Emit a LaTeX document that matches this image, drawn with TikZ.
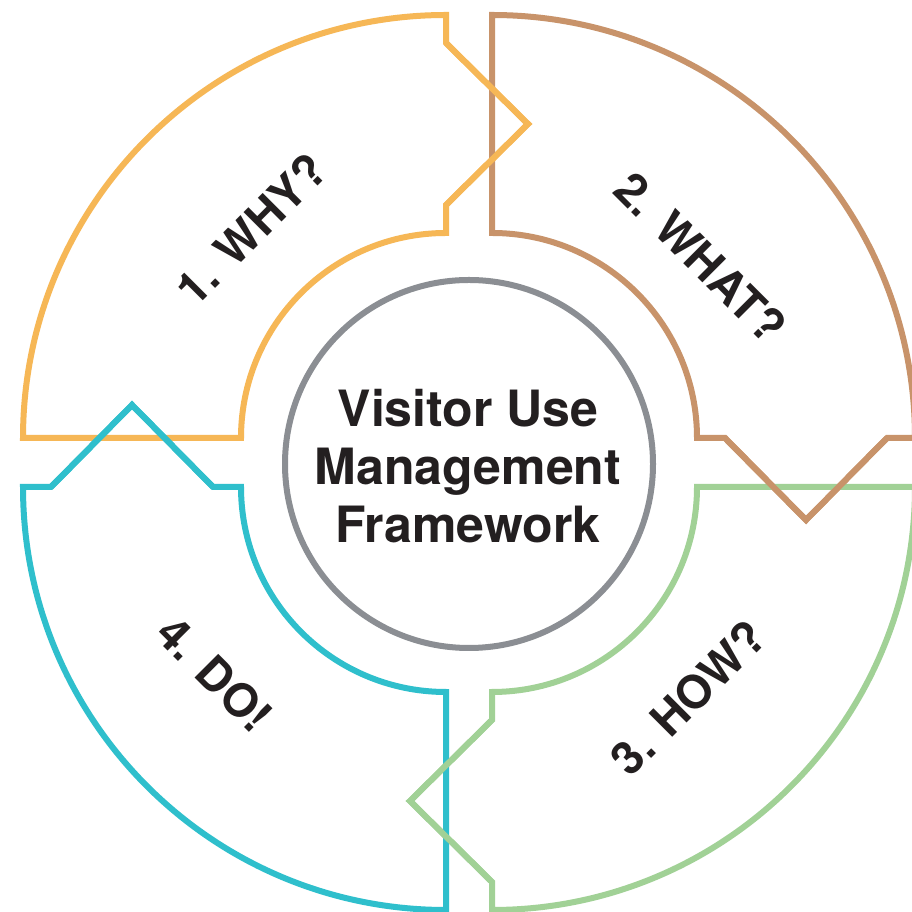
\documentclass[tikz,border=0pt]{standalone}
\usepackage{fontspec}
\setmainfont{TeX Gyre Heros}
\definecolor{cyel}{HTML}{F6B756}
\definecolor{cbrn}{HTML}{C8936A}
\definecolor{cgrn}{HTML}{A1D196}
\definecolor{ctea}{HTML}{2FBFCC}
\definecolor{cgry}{HTML}{8B8E93}
\definecolor{ctxt}{HTML}{231F20}
\begin{document}
\begin{tikzpicture}[x=1pt,y=1pt,
  seg/.style={line width=6pt, line join=miter},
  lab/.style={font=\fontsize{46}{50}\selectfont\bfseries, text=ctxt, inner sep=0pt},
  ctr/.style={font=\fontsize{50}{58}\selectfont\bfseries, text=ctxt, inner sep=0pt, anchor=base}]
\useasboundingbox (0,0) rectangle (911,912);
\fill[white] (0,0) rectangle (911,912);
\coordinate (TL) at (446,474);
\coordinate (TR) at (492,474);
\coordinate (BR) at (492,425);
\coordinate (BL) at (446,425);
\coordinate (C) at (469,448);

% yellow: 1. WHY?
\draw[seg, cyel] (TL) ++(180:423) arc[start angle=180, end angle=90, radius=423]
  -- ++(0,-28) -- ++(82,-81) -- ++(-82,-81) -- ++(0,-28)
  arc[start angle=90, end angle=180, radius=205] -- cycle;
% brown: 2. WHAT?
\draw[seg, cbrn] (TR) ++(90:423) arc[start angle=90, end angle=0, radius=423]
  -- ++(-28,0) -- ++(-81,-82) -- ++(-81,82) -- ++(-28,0)
  arc[start angle=0, end angle=90, radius=205] -- cycle;
% green: 3. HOW?
\draw[seg, cgrn] (BR) ++(0:423) arc[start angle=0, end angle=-90, radius=423]
  -- ++(0,28) -- ++(-82,81) -- ++(82,81) -- ++(0,28)
  arc[start angle=-90, end angle=0, radius=205] -- cycle;
% teal: 4. DO!
\draw[seg, ctea] (BL) ++(-90:423) arc[start angle=-90, end angle=-180, radius=423]
  -- ++(28,0) -- ++(81,82) -- ++(81,-82) -- ++(28,0)
  arc[start angle=180, end angle=270, radius=205] -- cycle;

% arrow heads on top
\draw[seg, cyel] (TL) ++(0,395) -- ++(82,-81) -- ++(-82,-81);
\draw[seg, cbrn] (TR) ++(395,0) -- ++(-81,-82) -- ++(-81,82);
\draw[seg, cgrn] (BR) ++(0,-395) -- ++(-82,81) -- ++(82,81);
\draw[seg, ctea] (BL) ++(-395,0) -- ++(81,82) -- ++(81,-82);

% center circle
\draw[line width=6pt, cgry] (C) circle[radius=184];
\node[ctr] (l1) at (468,485) {Visitor Use};
\node[ctr] (l2) at (468,427) {Management};
\node[ctr] (l3) at (468,369) {Framework};

% labels
\node[lab, rotate=45] (why) at (251,683) {1. WHY?};
\node[lab, rotate=-45] (what) at (701,655) {2. WHAT?};
\node[lab, rotate=45] (how) at (688,214) {3. HOW?};
\node[lab, rotate=-45] (do) at (215,238) {4. DO!};
\end{tikzpicture}
\end{document}
